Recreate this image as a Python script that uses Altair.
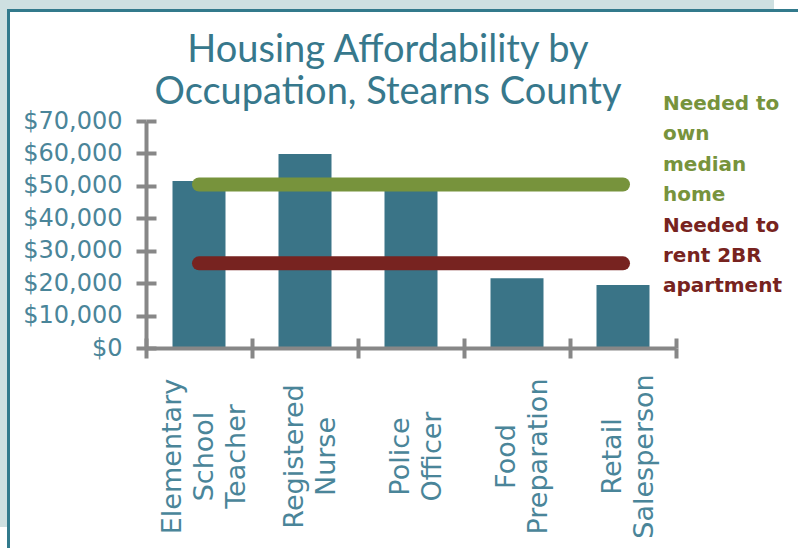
import altair as alt
import pandas as pd

# ---------------- data ----------------
occupations = ["Elementary School Teacher", "Registered Nurse", "Police Officer",
               "Food Preparation", "Retail Salesperson"]
wages = [51500, 59800, 50000, 21500, 19400]

series_lines = [["Needed to", "own", "median", "home"],
                ["Needed to", "rent 2BR", "apartment"]]
series = [" ".join(lines) for lines in series_lines]
thresholds = [50400, 26100]

y_ticks = [0, 10000, 20000, 30000, 40000, 50000, 60000, 70000]
x_boundaries = [0, 1, 2, 3, 4, 5]

# ---------------- styles ----------------
BAR = "#3a7487"
GREEN = "#77933c"
RED = "#772320"
GRAY = "#878787"
TITLE = "#37788c"
LABEL = "#4a8599"
LIGHT = "#cee0e1"
TEAL = "#327a8c"
LABEL_FONT = "DejaVu Sans"

bars_df = pd.DataFrame({"Occupation": occupations, "Income": wages})
lines_df = pd.DataFrame({
    "Series": series,
    "Amount": thresholds,
    "From": [occupations[0]] * len(series),
    "To": [occupations[-1]] * len(series),
})
legend_values = [{"Series": s, "Lines": l} for s, l in zip(series, series_lines)]

x_scale = alt.Scale(domain=occupations, paddingInner=0.5, paddingOuter=0.25)
y_scale = alt.Scale(domain=[0, 70000], nice=False, zero=True)
color_scale = alt.Scale(domain=series, range=[GREEN, RED])

x_axis = alt.Axis(
    title=None, domain=False, ticks=False, tickSize=0, grid=False,
    labelAngle=270, labelAlign="center", labelBaseline="middle",
    labelPadding=108,
    labelOffset={"condition": {"test": "length(split(datum.label, ' ')) === 3",
                               "value": -26}, "value": -10},
    labelExpr="split(datum.label, ' ')",
    labelLineHeight=32, labelFont=LABEL_FONT, labelFontSize=27,
    labelFontWeight="normal", labelColor=LABEL, labelLimit=400,
)
y_axis = alt.Axis(
    title=None, domain=False, ticks=False, tickSize=0, grid=False,
    values=y_ticks, format="$,.0f", labelPadding=24,
    labelFont=LABEL_FONT, labelFontSize=24, labelFontWeight="normal",
    labelColor=LABEL,
)


def frame_rect(x, x2, y, y2, color):
    return alt.Chart(alt.Data(values=[{"k": 0}])).mark_rect(color=color).encode(
        x=alt.value(x), x2=alt.value(x2), y=alt.value(y), y2=alt.value(y2))


frame = [
    frame_rect(-146, 628, -121, -112, LIGHT),
    frame_rect(-146, -139, -121, 406, LIGHT),
    frame_rect(-139, 652, -112, -109, TEAL),
    frame_rect(-139, -136, -112, 427, TEAL),
]

bars = alt.Chart(bars_df).mark_bar(color=BAR).encode(
    x=alt.X("Occupation:N", sort=occupations, scale=x_scale, axis=x_axis),
    y=alt.Y("Income:Q", scale=y_scale, axis=y_axis),
)

rules = alt.Chart(lines_df).mark_rule(strokeWidth=14, strokeCap="round").encode(
    x=alt.X("From:N", sort=occupations, scale=x_scale, axis=x_axis),
    x2=alt.X2("To:N"),
    y=alt.Y("Amount:Q", scale=y_scale, axis=y_axis),
    color=alt.Color("Series:N", scale=color_scale, legend=None),
)


def legend_text(i, y):
    return alt.Chart(alt.Data(values=legend_values)).transform_filter(
        alt.datum.Series == series[i]
    ).mark_text(align="left", baseline="alphabetic", font=LABEL_FONT,
                fontSize=20, fontWeight="bold", lineHeight=30.4).encode(
        x=alt.value(517), y=alt.value(y),
        text=alt.Text("Lines:N"),
        color=alt.Color("Series:N", scale=color_scale, legend=None),
    )


main = alt.layer(*frame, bars, rules, legend_text(0, -11), legend_text(1, 110.7))


def tick_layer(offset, show_domain):
    common = dict(labels=False, ticks=True, tickSize=10, tickWidth=4,
                  tickColor=GRAY, domain=show_domain, domainWidth=4,
                  domainColor=GRAY, grid=False, title=None, zindex=1,
                  offset=offset)
    return alt.Chart(bars_df).mark_point(opacity=0).encode(
        x=alt.XDatum(0, type="quantitative",
                     scale=alt.Scale(domain=[0, len(occupations)], nice=False, zero=False),
                     axis=alt.Axis(values=x_boundaries, orient="bottom", **common)),
        y=alt.YDatum(0, type="quantitative",
                     scale=alt.Scale(domain=[0, 70000], nice=False),
                     axis=alt.Axis(values=y_ticks, orient="left", **common)),
    )


chart = alt.layer(main, tick_layer(0, True), tick_layer(-10, False)).resolve_scale(
    x="independent", y="independent"
).properties(
    width=530, height=227,
    padding={"left": 146, "top": 121, "right": 122, "bottom": 200},
    autosize=alt.AutoSizeParams(type="none"),
    background="white",
    title=alt.TitleParams(
        text=["Housing Affordability by", "Occupation, Stearns County"],
        font="Lato", fontSize=38, fontWeight="normal", color=TITLE,
        anchor="middle", lineHeight=42, offset=-112, dx=-23,
    ),
).configure_view(stroke=None)

chart.save("out.html", embed_options={"renderer": "svg", "actions": False})
